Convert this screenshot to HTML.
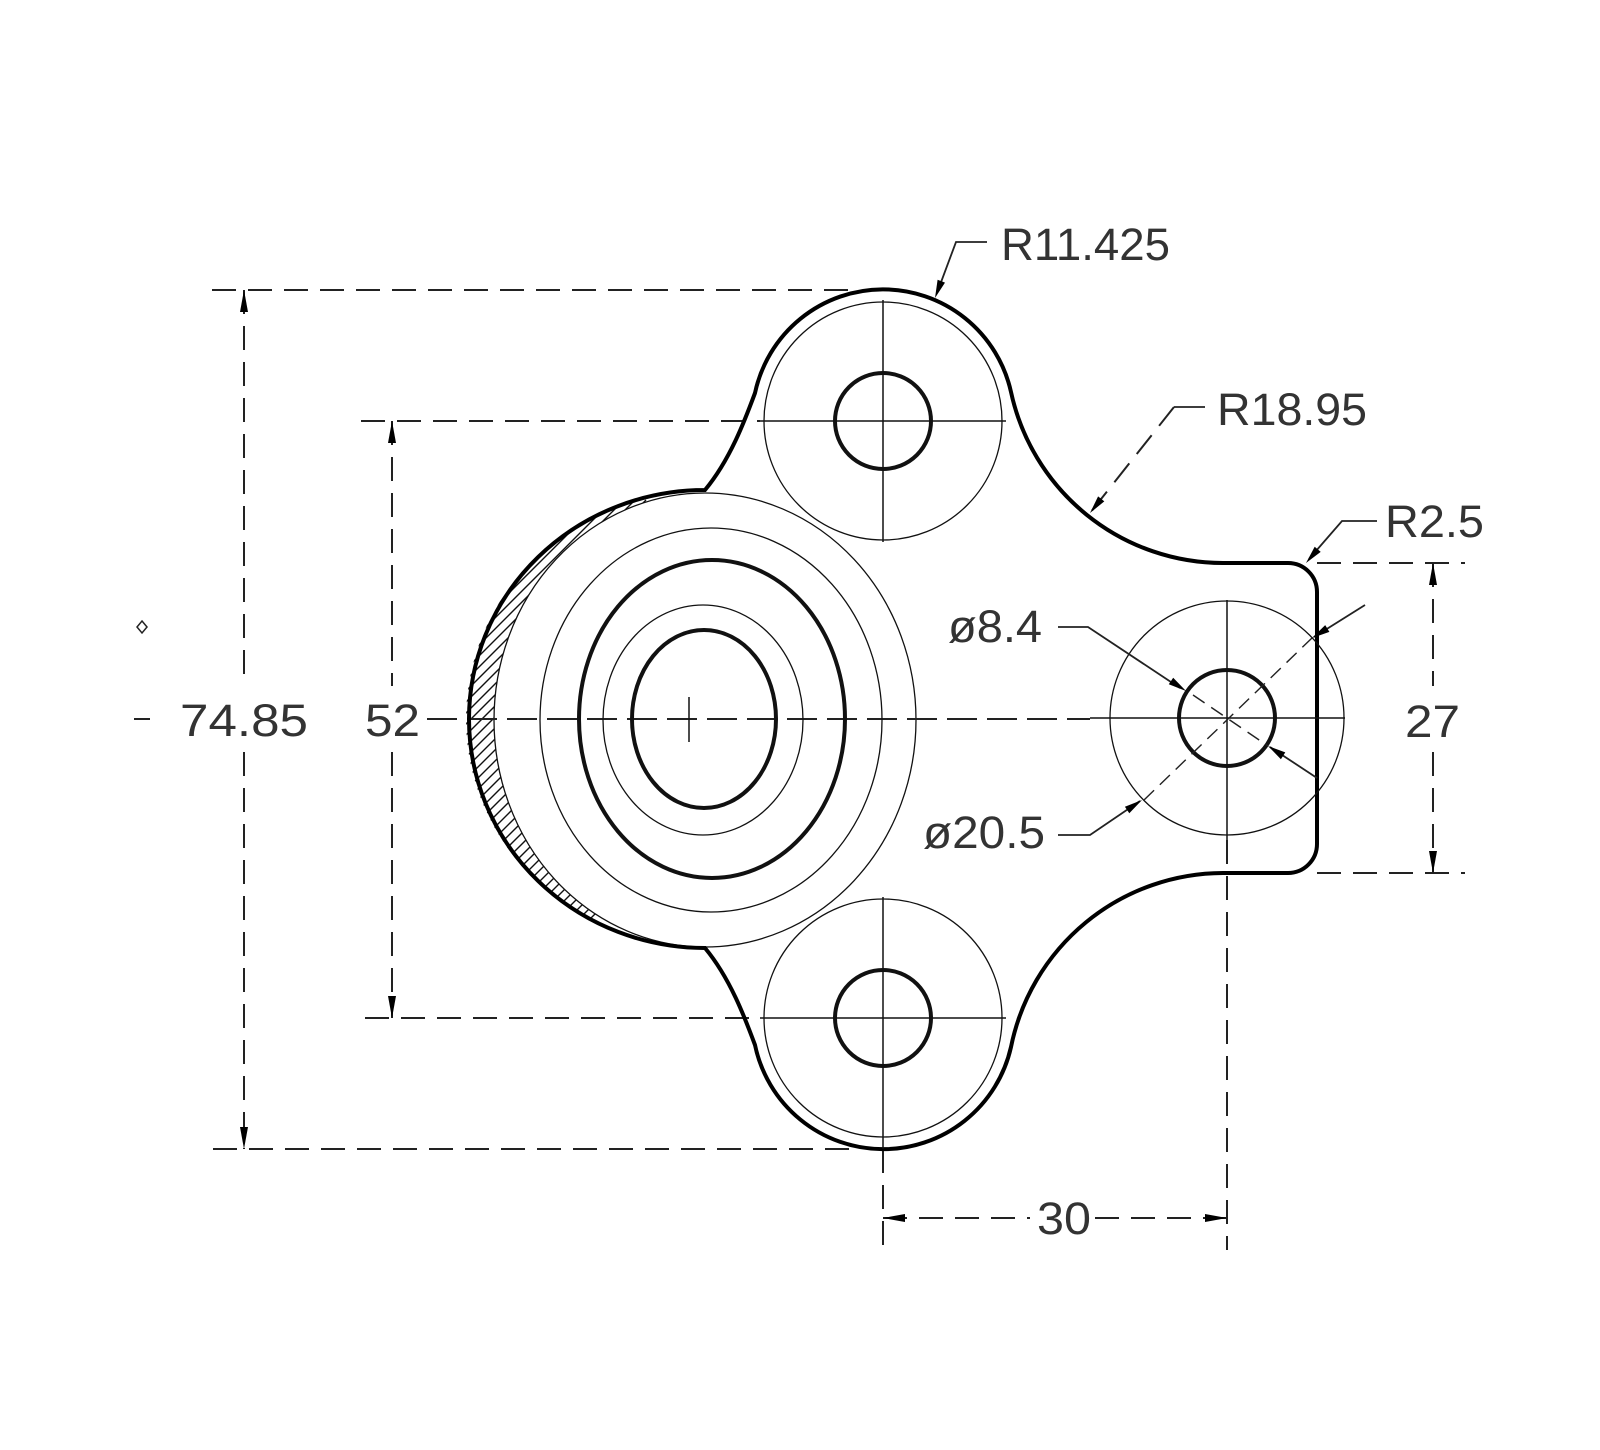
<!DOCTYPE html>
<html><head><meta charset="utf-8"><style>
html,body{margin:0;padding:0;background:#fff}
svg{display:block}
text{font-family:"Liberation Sans",sans-serif;font-size:45px;fill:#333}
</style></head><body>
<svg width="1600" height="1450" viewBox="0 0 1600 1450" xmlns="http://www.w3.org/2000/svg">
<defs>
<clipPath id="hc"><path d="M705,490 A239,229 0 1,0 705,948 Z"/></clipPath>
</defs>
<rect width="1600" height="1450" fill="#fff"/>
<!-- hatching -->
<g clip-path="url(#hc)" stroke="#111" stroke-width="1.4">
<path d="M300,1000 L800,500 M300,1011 L811,500 M300,1022 L822,500 M300,1033 L833,500 M300,1044 L844,500 M300,1055 L855,500 M300,1066 L866,500 M300,1077 L877,500 M300,1088 L888,500 M300,1099 L899,500 M300,989 L789,500 M300,978 L778,500 M300,967 L767,500 M300,956 L756,500 M300,945 L745,500 M300,934 L734,500 M300,923 L723,500 M300,912 L712,500 M300,901 L701,500 M300,890 L690,500 M300,879 L679,500 M300,868 L668,500 M300,857 L657,500 M300,846 L646,500 M300,835 L635,500 M300,824 L624,500 M300,813 L613,500 M300,802 L602,500 M300,791 L591,500 M300,780 L580,500 M300,769 L569,500 M300,758 L558,500 M300,747 L547,500 M300,736 L536,500 M300,725 L525,500 M300,1110 L910,500 M300,1121 L921,500 M300,1132 L932,500 M300,1143 L943,500 M300,1154 L954,500 M300,1165 L965,500 M300,1176 L976,500 M300,1187 L987,500 M300,1198 L998,500 M300,1209 L1009,500"/>
</g>
<ellipse cx="705" cy="720" rx="211" ry="227" fill="#fff" stroke="#111" stroke-width="1.3"/>

<!-- dimension extension lines -->
<g stroke="#222" stroke-width="2" fill="none" stroke-dasharray="24 12">
<path d="M212,290 H860"/>
<path d="M213,1149 H860"/>
<path d="M361,421 H760"/>
<path d="M365,1018 H760"/>
<path d="M1317,563 H1465"/>
<path d="M1317,873 H1465"/>
<path d="M244,290 V686 M244,752 V1149"/>
<path d="M392,421 V686 M392,752 V1018"/>
<path d="M1433,563 V686 M1433,752 V873"/>
<path d="M883,1149 V1250"/>
<path d="M1227,840 V1250"/>
<path d="M883,1218 H1030 M1095,1218 H1227"/>
<path d="M427,719 H1090" stroke-dasharray="30 10"/>
<path d="M1174,407 L1090,513"/>
</g>
<path d="M134,719 H150" stroke="#222" stroke-width="2"/>
<path d="M142,621 L147,627 L142,633 L137,627 Z" fill="none" stroke="#222" stroke-width="1.5"/>

<!-- body outline -->
<path d="M705,490 C730,460 745,420 755,393 A131,131 0 0,1 1011,392 A217,217 0 0,0 1223,563 L1288,563 A29,29 0 0,1 1317,592 L1317,844 A29,29 0 0,1 1288,873 L1223,873 A217,217 0 0,0 1011,1047 A131,131 0 0,1 755,1045 C745,1018 730,978 705,948 A236,229 0 1,1 705,490 Z" fill="none" stroke="#000" stroke-width="4"/>

<!-- main concentric -->
<g fill="none" stroke="#111">
<ellipse cx="711" cy="720" rx="171" ry="192" stroke-width="1.3"/>
<ellipse cx="712" cy="719" rx="133" ry="159" stroke-width="4"/>
<ellipse cx="703" cy="720" rx="100" ry="115" stroke-width="1.3"/>
<ellipse cx="704" cy="719" rx="72" ry="89" stroke-width="4"/>
<path d="M689,697 V742" stroke-width="1.5"/>
</g>

<!-- lugs -->
<g fill="none" stroke="#111">
<circle cx="883" cy="421" r="119" stroke-width="1.3"/>
<circle cx="883" cy="421" r="48" stroke-width="4"/>
<circle cx="883" cy="1018" r="119" stroke-width="1.3"/>
<circle cx="883" cy="1018" r="48" stroke-width="4"/>
<path d="M883,300 V542 M760,421 H1006 M883,897 V1149 M760,1018 H1006" stroke-width="1.5"/>
<circle cx="1227" cy="718" r="117" stroke-width="1.3"/>
<circle cx="1227" cy="718" r="48" stroke-width="4"/>
<path d="M1227,600 V840 M1090,718 H1345" stroke-width="1.5"/>
</g>

<!-- leaders -->
<g fill="none" stroke="#222" stroke-width="1.8">
<path d="M987,242 H956 L937,293"/>
<path d="M1205,407 H1174"/>
<path d="M1377,521 H1342 L1309,559"/>
<path d="M1058,627 H1088 L1180,688"/>
<path d="M1317,778 L1270,747"/>
<path d="M1058,835 H1090 L1140,801"/>
<path d="M1365,605 L1314,637"/>
<path d="M1193,695 L1268,746 M1144,800 L1312,638" stroke-dasharray="14 8" stroke-width="1.4"/>
</g>

<!-- arrowheads -->
<g fill="#000">
<polygon points="244,290 240,312 248,312"/>
<polygon points="244,1149 240,1127 248,1127"/>
<polygon points="392,421 388,443 396,443"/>
<polygon points="392,1018 388,996 396,996"/>
<polygon points="1433,563 1429,585 1437,585"/>
<polygon points="1433,873 1429,851 1437,851"/>
<polygon points="883,1218 905,1214 905,1222"/>
<polygon points="1227,1218 1205,1214 1205,1222"/>
<polygon points="935,298 945,282.6 937.6,279.8"/>
<polygon points="1090,513 1104.3,501.4 1098.1,496.4"/>
<polygon points="1306,563 1320.7,551.9 1314.7,546.7"/>
<polygon points="1186,691 1168.8,684.3 1173.2,677.7"/>
<polygon points="1268,746 1285.3,752.4 1280.9,759.2"/>
<polygon points="1142,800 1129.3,813.3 1124.9,806.7"/>
<polygon points="1312,638 1325.2,625.1 1329.4,631.9"/>
</g>

<!-- labels -->
<text x="180" y="736" textLength="128" lengthAdjust="spacingAndGlyphs">74.85</text>
<text x="365" y="736" textLength="55" lengthAdjust="spacingAndGlyphs">52</text>
<text x="1001" y="260" textLength="169" lengthAdjust="spacingAndGlyphs">R11.425</text>
<text x="1217" y="425" textLength="150" lengthAdjust="spacingAndGlyphs">R18.95</text>
<text x="1385" y="537" textLength="99" lengthAdjust="spacingAndGlyphs">R2.5</text>
<text x="948" y="642" textLength="94" lengthAdjust="spacingAndGlyphs">ø8.4</text>
<text x="923" y="848" textLength="122" lengthAdjust="spacingAndGlyphs">ø20.5</text>
<text x="1405" y="737" textLength="55" lengthAdjust="spacingAndGlyphs">27</text>
<text x="1037" y="1234" textLength="54" lengthAdjust="spacingAndGlyphs">30</text>
</svg>
</body></html>
